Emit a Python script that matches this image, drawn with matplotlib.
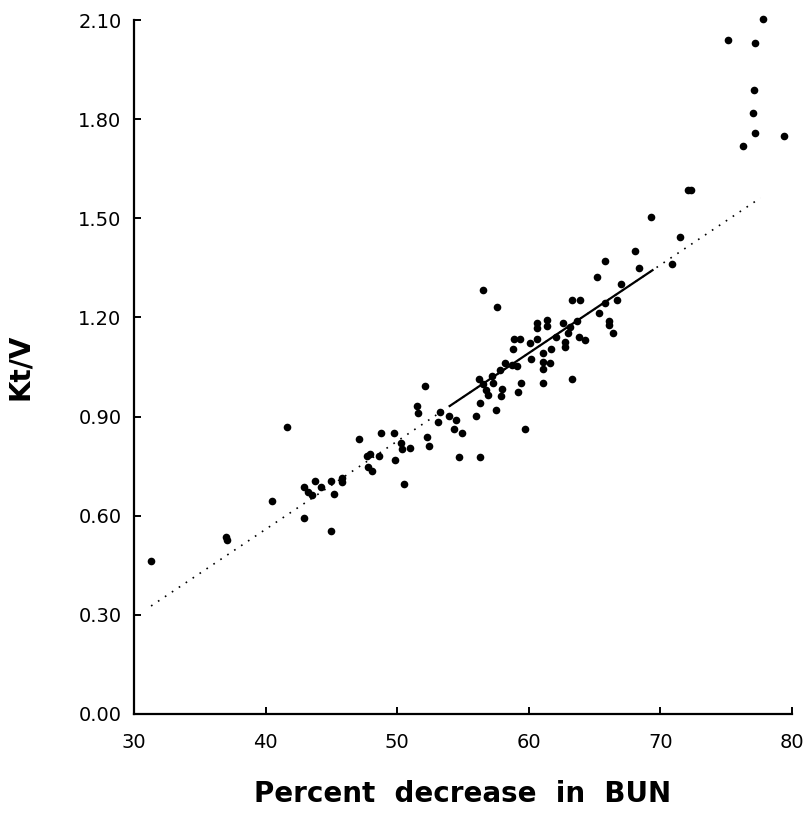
import numpy as np
import matplotlib
matplotlib.use("Agg")
import matplotlib.pyplot as plt

# percent decrease in BUN vs Kt/V
bun = [31.3, 37.0, 37.05, 40.5, 41.6, 42.9, 42.9, 43.25, 43.5, 43.75, 44.2,
       45.0, 45.0, 45.2, 45.8, 45.8, 47.1, 47.7, 47.75, 47.9, 48.05, 48.65,
       48.8, 49.75, 49.8, 50.3, 50.4, 50.5, 51.0, 51.5, 51.55, 52.15, 52.3,
       52.4, 53.1, 53.25, 53.9, 54.3, 54.5, 54.7, 54.9, 56.0, 56.2, 56.3,
       56.3, 56.5, 56.5, 56.75, 56.9, 57.2, 57.3, 57.5, 57.6, 57.8, 57.9,
       58.0, 58.2, 58.7, 58.8, 58.9, 59.1, 59.2, 59.3, 59.4, 59.7, 60.1,
       60.2, 60.6, 60.6, 60.6, 61.05, 61.05, 61.05, 61.1, 61.4, 61.4, 61.6,
       61.7, 62.1, 62.6, 62.75, 62.75, 63.0, 63.1, 63.3, 63.3, 63.7, 63.8,
       63.9, 64.3, 65.2, 65.3, 65.8, 65.8, 66.1, 66.1, 66.4, 66.7, 67.0,
       68.1, 68.4, 69.3, 70.9, 71.5, 72.07, 72.3, 75.1, 76.25, 77.0, 77.1,
       77.2, 77.2, 77.8, 79.4]
ktv = [0.464, 0.536, 0.526, 0.645, 0.869, 0.686, 0.594, 0.673, 0.663, 0.706,
       0.686, 0.706, 0.555, 0.666, 0.713, 0.703, 0.831, 0.781, 0.748, 0.787,
       0.736, 0.781, 0.849, 0.849, 0.769, 0.821, 0.801, 0.697, 0.804, 0.932,
       0.912, 0.991, 0.837, 0.811, 0.885, 0.915, 0.902, 0.861, 0.890, 0.777,
       0.849, 0.902, 1.013, 0.942, 0.779, 0.998, 1.283, 0.980, 0.965, 1.023,
       1.003, 0.920, 1.232, 1.041, 0.962, 0.982, 1.061, 1.056, 1.104, 1.134,
       1.053, 0.973, 1.134, 1.003, 0.861, 1.124, 1.073, 1.184, 1.167, 1.134,
       1.066, 1.044, 1.003, 1.091, 1.192, 1.174, 1.061, 1.104, 1.140, 1.184,
       1.127, 1.110, 1.152, 1.170, 1.252, 1.013, 1.190, 1.140, 1.252, 1.132,
       1.321, 1.212, 1.372, 1.245, 1.189, 1.177, 1.154, 1.252, 1.301, 1.402,
       1.351, 1.504, 1.362, 1.443, 1.585, 1.585, 2.04, 1.718, 1.819, 1.889,
       1.758, 2.03, 2.103, 1.749]

# regression line
intercept = -0.508
slope = 0.02667
solid_range = [54.0, 69.4]
dotted_range = [31.3, 77.6]

xticks = [30, 40, 50, 60, 70, 80]
yticks = [0.0, 0.3, 0.6, 0.9, 1.2, 1.5, 1.8, 2.1]

fig = plt.figure(figsize=(8.09, 8.17), dpi=100)
ax = fig.add_axes([0.1656, 0.1261, 0.8134, 0.8494])

xd = np.array(dotted_range)
ax.plot(xd, intercept + slope * xd, color='black', lw=1.2,
        linestyle=(0, (1, 4)))
xs = np.array(solid_range)
ax.plot(xs, intercept + slope * xs, color='black', lw=1.6)
ax.plot(bun, ktv, 'o', color='black', ms=5.5, mew=0, clip_on=False)

ax.set_xlim(30, 80)
ax.set_ylim(0, 2.1)
ax.set_xticks(xticks)
ax.set_xticklabels([str(t) for t in xticks])
ax.set_yticks(yticks)
ax.set_yticklabels(['%.2f' % t for t in yticks])

for s in ['top', 'right']:
    ax.spines[s].set_visible(False)
for s in ['left', 'bottom']:
    ax.spines[s].set_linewidth(1.6)
ax.tick_params(direction='in', length=5, width=1.4, labelsize=14)
ax.tick_params(axis='x', pad=14)
ax.tick_params(axis='y', pad=9)

ax.set_xlabel('Percent  decrease  in  BUN', fontsize=20, fontweight='bold',
              labelpad=20)
ax.set_ylabel('Kt/V', fontsize=20, fontweight='bold', labelpad=32)

fig.savefig('out.png', dpi=100)
